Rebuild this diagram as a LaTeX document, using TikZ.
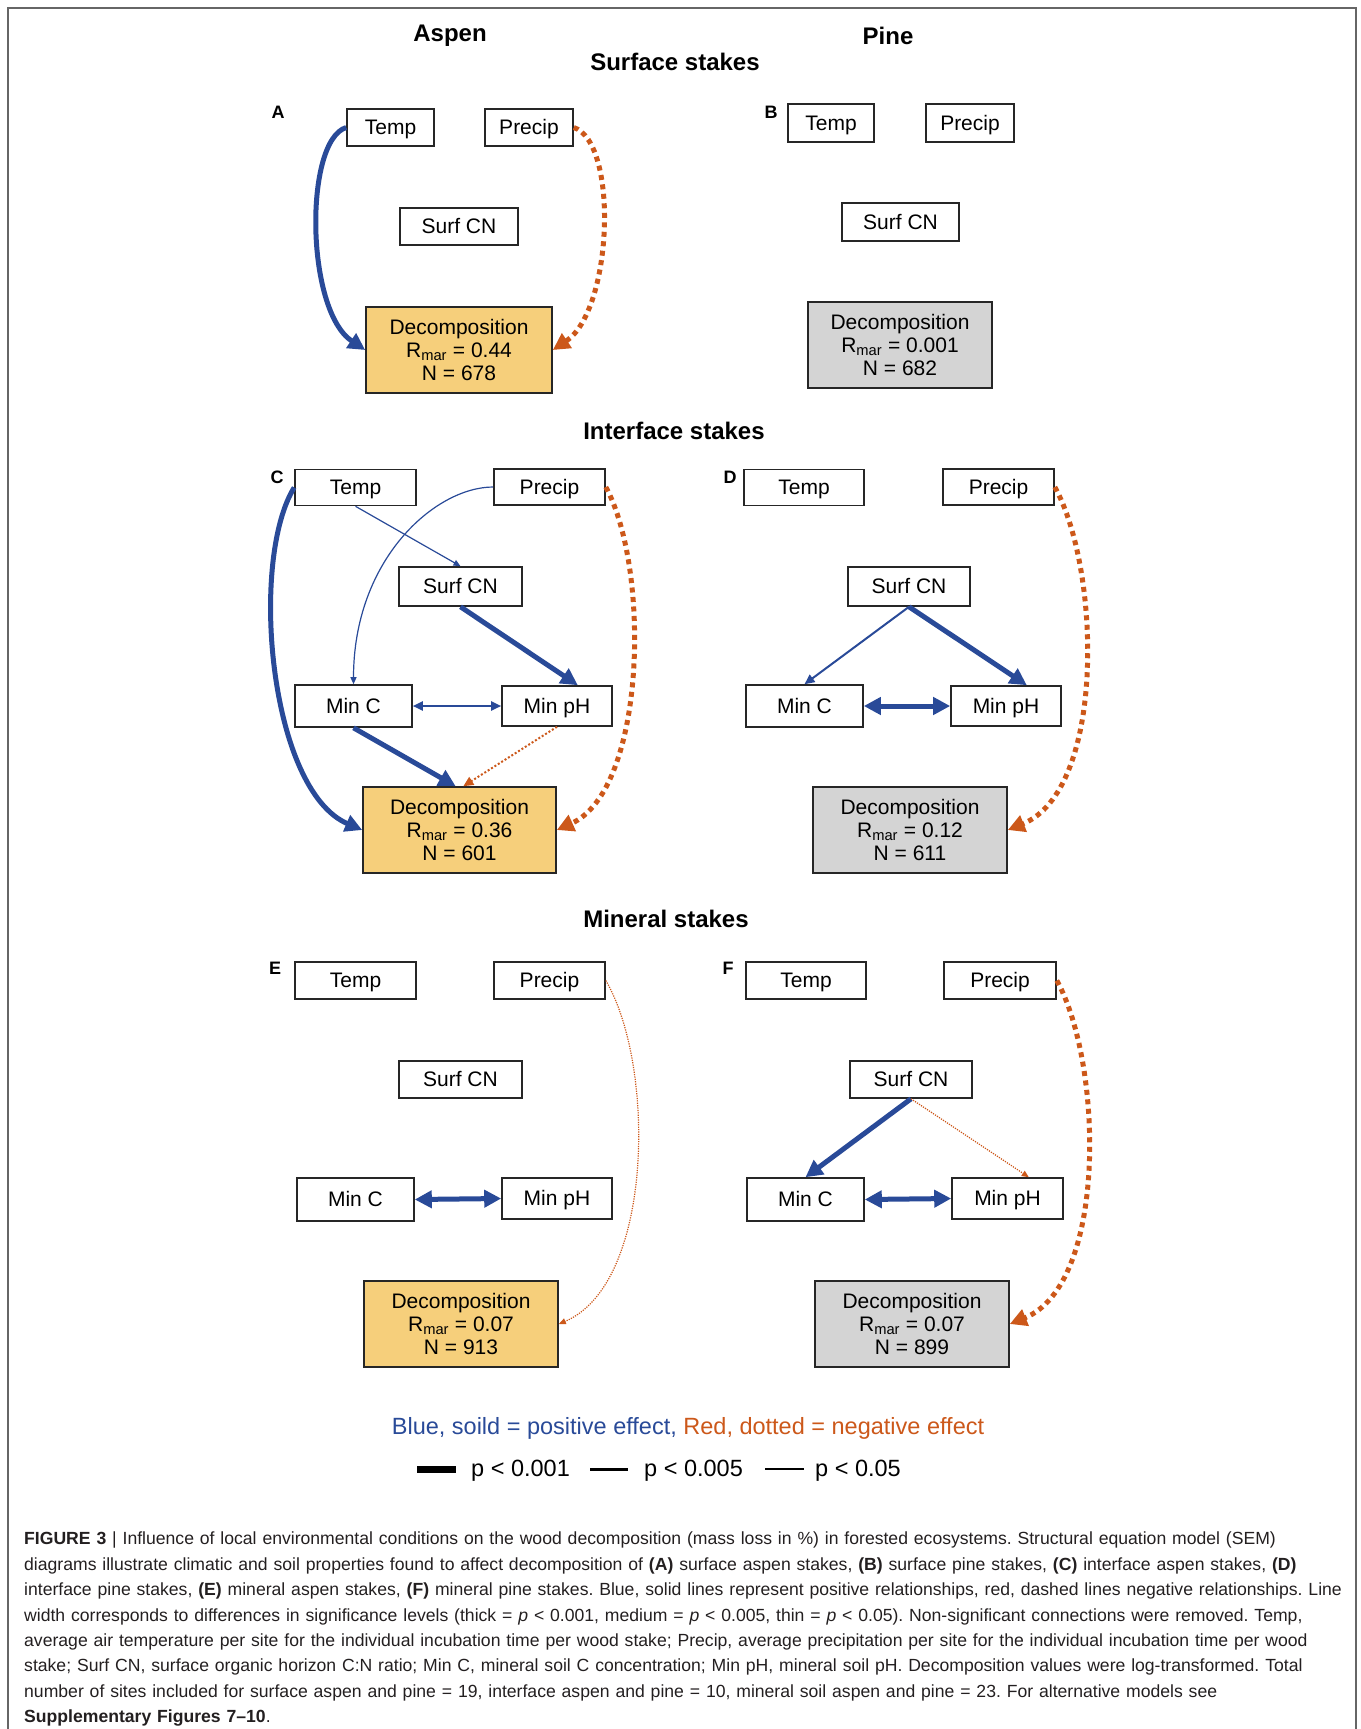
\documentclass[tikz,border=0pt]{standalone}
\usepackage{fontspec}
\setmainfont{Liberation Sans}
\usepackage{tikz}
\usetikzlibrary{arrows.meta,calc}

\definecolor{posblue}{RGB}{41,74,152}
\definecolor{negred}{RGB}{204,88,26}
\definecolor{aspenfill}{RGB}{246,207,123}
\definecolor{pinefill}{RGB}{212,212,212}
\definecolor{captext}{RGB}{35,31,32}

\tikzset{
  box/.style={draw=black!85, line width=1.6pt, inner sep=0pt,
    font=\fontsize{21}{23}\selectfont},
  var/.style={box, minimum height=37pt, text height=15pt, text depth=0.5pt},
  decomp/.style={box, align=center, minimum width=194pt, minimum height=86pt},
  aspen/.style={decomp, fill=aspenfill},
  pine/.style={decomp, fill=pinefill},
  panel/.style={font=\fontsize{18}{18}\selectfont\bfseries},
  head/.style={font=\fontsize{24}{24}\selectfont\bfseries},
  key/.style={font=\fontsize{23.5}{23.5}\selectfont, inner sep=0pt},
  sig001/.style={line width=5pt, >={Triangle[length=17pt,width=17pt]}},
  sig005/.style={line width=2pt, >={Triangle[length=10pt,width=9pt]}},
  sig05/.style={line width=1.2pt, >={Triangle[length=7pt,width=6pt]}},
  pos001/.style={sig001, draw=posblue},
  pos005/.style={sig005, draw=posblue},
  pos05/.style={sig05, draw=posblue},
  neg001/.style={sig001, draw=negred, dash pattern=on 5pt off 4.5pt},
  neg005/.style={sig005, draw=negred, dash pattern=on 2pt off 2pt},
  neg05/.style={sig05, draw=negred, dash pattern=on 1.2pt off 1.2pt}
}

\begin{document}
\frenchspacing
\begin{tikzpicture}[x=1pt,y=-1pt]
\useasboundingbox (0,0) rectangle (1360,1729);
\draw[black!60, line width=1.5pt] (8,1729) -- (8,8) -- (1356,8) -- (1356,1729);

% titles
\node[head] (aspen) at (450,36) {Aspen};
\node[head] (pine) at (888,36) {Pine};
\node[head] (surf) at (675,62) {Surface stakes};
\node[head] (inter) at (674,431) {Interface stakes};
\node[head] (miner) at (666,919) {Mineral stakes};

% A
\node[panel] (labA) at (278,112) {A};
\node[var, minimum width=87pt] (tA) at (390.5,127.5) {Temp};
\node[var, minimum width=88pt] (pA) at (529,127.5) {Precip};
\node[var, minimum width=118pt] (sA) at (459,226.5) {Surf CN};
\node[aspen, minimum width=186pt] (dA) at (459,350) {Decomposition\\R\textsubscript{mar} = 0.44\\N = 678};
\draw[pos001,->] (tA.west) .. controls +(-42,13) and +(-60,-40) .. (dA.west);
\draw[neg001,->] (pA.east) .. controls +(45,15) and +(60,-40) .. (dA.east);

% B
\node[panel] (labB) at (771,112) {B};
\node[var, minimum width=86pt, minimum height=38pt] (tB) at (831,123) {Temp};
\node[var, minimum width=88pt, minimum height=38pt] (pB) at (970,123) {Precip};
\node[var, minimum width=117pt, minimum height=38pt] (sB) at (900.5,222) {Surf CN};
\node[pine, minimum width=184pt] (dB) at (900,345) {Decomposition\\R\textsubscript{mar} = 0.001\\N = 682};

% C
\node[panel] (labC) at (277,477) {C};
\node[var, minimum width=121pt, minimum height=36pt] (tC) at (355.5,487.5) {Temp};
\node[var, minimum width=111pt, minimum height=36pt] (pC) at (549.5,487) {Precip};
\node[var, minimum width=123pt, minimum height=39pt] (sC) at (460.5,586.5) {Surf CN};
\node[var, minimum width=117pt, minimum height=42pt] (mcC) at (353.5,706) {Min C};
\node[var, minimum width=110pt, minimum height=40pt] (mpC) at (557,706) {Min pH};
\node[aspen, minimum width=193pt] (dC) at (459.5,830) {Decomposition\\R\textsubscript{mar} = 0.36\\N = 601};
\draw[pos001,->] (tC.west) .. controls +(-45,73) and +(-93,-40) .. (dC.west);
\draw[pos05,->] (tC.south) -- (sC.north);
\draw[pos05,->] (pC.west) .. controls +(-58,0) and +(0,-125) .. (mcC.north);
\draw[pos001,->] (sC.south) -- (mpC.45);
\draw[pos005,<->] (mcC.east) -- (mpC.west);
\draw[pos001,->] (mcC.south) -- (dC.95);
\draw[neg005,->] (mpC.south) -- (dC.85);
\draw[neg001,->] (pC.east) .. controls +(45,83) and +(89,-40) .. (dC.east);

% D
\node[panel] (labD) at (730,477) {D};
\node[var, minimum width=120pt, minimum height=36pt] (tD) at (804,487.5) {Temp};
\node[var, minimum width=111pt, minimum height=36pt] (pD) at (998.5,487) {Precip};
\node[var, minimum width=122pt, minimum height=39pt] (sD) at (909,586.5) {Surf CN};
\node[var, minimum width=117pt, minimum height=42pt] (mcD) at (804.5,706) {Min C};
\node[var, minimum width=110pt, minimum height=40pt] (mpD) at (1006,706) {Min pH};
\node[pine] (dD) at (910,830) {Decomposition\\R\textsubscript{mar} = 0.12\\N = 611};
\draw[pos005,->] (sD.south) -- (mcD.north);
\draw[pos001,->] (sD.south) -- (mpD.45);
\draw[pos001,<->] (mcD.east) -- (mpD.west);
\draw[neg001,->] (pD.east) .. controls +(46,83) and +(98,-40) .. (dD.east);

% E
\node[panel] (labE) at (275,968) {E};
\node[var, minimum width=121pt] (tE) at (355.5,980.5) {Temp};
\node[var, minimum width=111pt] (pE) at (549.5,980.5) {Precip};
\node[var, minimum width=123pt] (sE) at (460.5,1079.5) {Surf CN};
\node[var, minimum width=117pt, minimum height=43pt] (mcE) at (355.5,1199.5) {Min C};
\node[var, minimum width=110pt, minimum height=41pt] (mpE) at (557,1198.5) {Min pH};
\node[aspen] (dE) at (461,1324) {Decomposition\\R\textsubscript{mar} = 0.07\\N = 913};
\draw[pos001,<->] (mcE.east) -- (mpE.west);
\draw[neg05,->] (pE.east) .. controls +(50,85) and +(95,-40) .. (dE.east);

% F
\node[panel] (labF) at (728,968) {F};
\node[var, minimum width=120pt] (tF) at (806,980.5) {Temp};
\node[var, minimum width=112pt] (pF) at (1000,980.5) {Precip};
\node[var, minimum width=122pt] (sF) at (911,1079.5) {Surf CN};
\node[var, minimum width=117pt, minimum height=43pt] (mcF) at (805.5,1199.5) {Min C};
\node[var, minimum width=111pt, minimum height=41pt] (mpF) at (1007.5,1198.5) {Min pH};
\node[pine] (dF) at (912,1324) {Decomposition\\R\textsubscript{mar} = 0.07\\N = 899};
\draw[pos001,->] (sF.south) -- (mcF.north);
\draw[neg05,->] (sF.south) -- (mpF.45);
\draw[pos001,<->] (mcF.east) -- (mpF.west);
\draw[neg001,->] (pF.east) .. controls +(46,83) and +(98,-40) .. (dF.east);

% legend
\node[key] (effects) at (688,1428) {\textcolor{posblue}{Blue, soild = positive effect,} \textcolor{negred}{Red, dotted = negative effect}};
\node[key, anchor=west] (k1) at (471,1471) {p < 0.001};
\node[key, anchor=west] (k2) at (644,1471) {p < 0.005};
\node[key, anchor=west] (k3) at (815,1471) {p < 0.05};
\draw[line width=7pt] (417,1469) -- (456,1469);
\draw[line width=3pt] (590,1469) -- (628,1469);
\draw[line width=1.5pt] (765,1469) -- (804,1469);

% caption
\node[anchor=north west, text width=1330pt, align=left, inner sep=0pt, text=captext,
  font=\fontsize{17.6}{25.4}\selectfont] (caption) at (24,1532) {%
\textbf{FIGURE 3} | Influence of local environmental conditions on the wood decomposition (mass loss in \%) in forested ecosystems. Structural equation model (SEM)\\
diagrams illustrate climatic and soil properties found to affect decomposition of \textbf{(A)} surface aspen stakes, \textbf{(B)} surface pine stakes, \textbf{(C)} interface aspen stakes, \textbf{(D)}\\
interface pine stakes, \textbf{(E)} mineral aspen stakes, \textbf{(F)} mineral pine stakes. Blue, solid lines represent positive relationships, red, dashed lines negative relationships. Line\\
width corresponds to differences in significance levels (thick = \textit{p} < 0.001, medium = \textit{p} < 0.005, thin = \textit{p} < 0.05). Non-significant connections were removed. Temp,\\
average air temperature per site for the individual incubation time per wood stake; Precip, average precipitation per site for the individual incubation time per wood\\
stake; Surf CN, surface organic horizon C:N ratio; Min C, mineral soil C concentration; Min pH, mineral soil pH. Decomposition values were log-transformed. Total\\
number of sites included for surface aspen and pine = 19, interface aspen and pine = 10, mineral soil aspen and pine = 23. For alternative models see\\
\textbf{Supplementary Figures 7--10}.};
\end{tikzpicture}
\end{document}
